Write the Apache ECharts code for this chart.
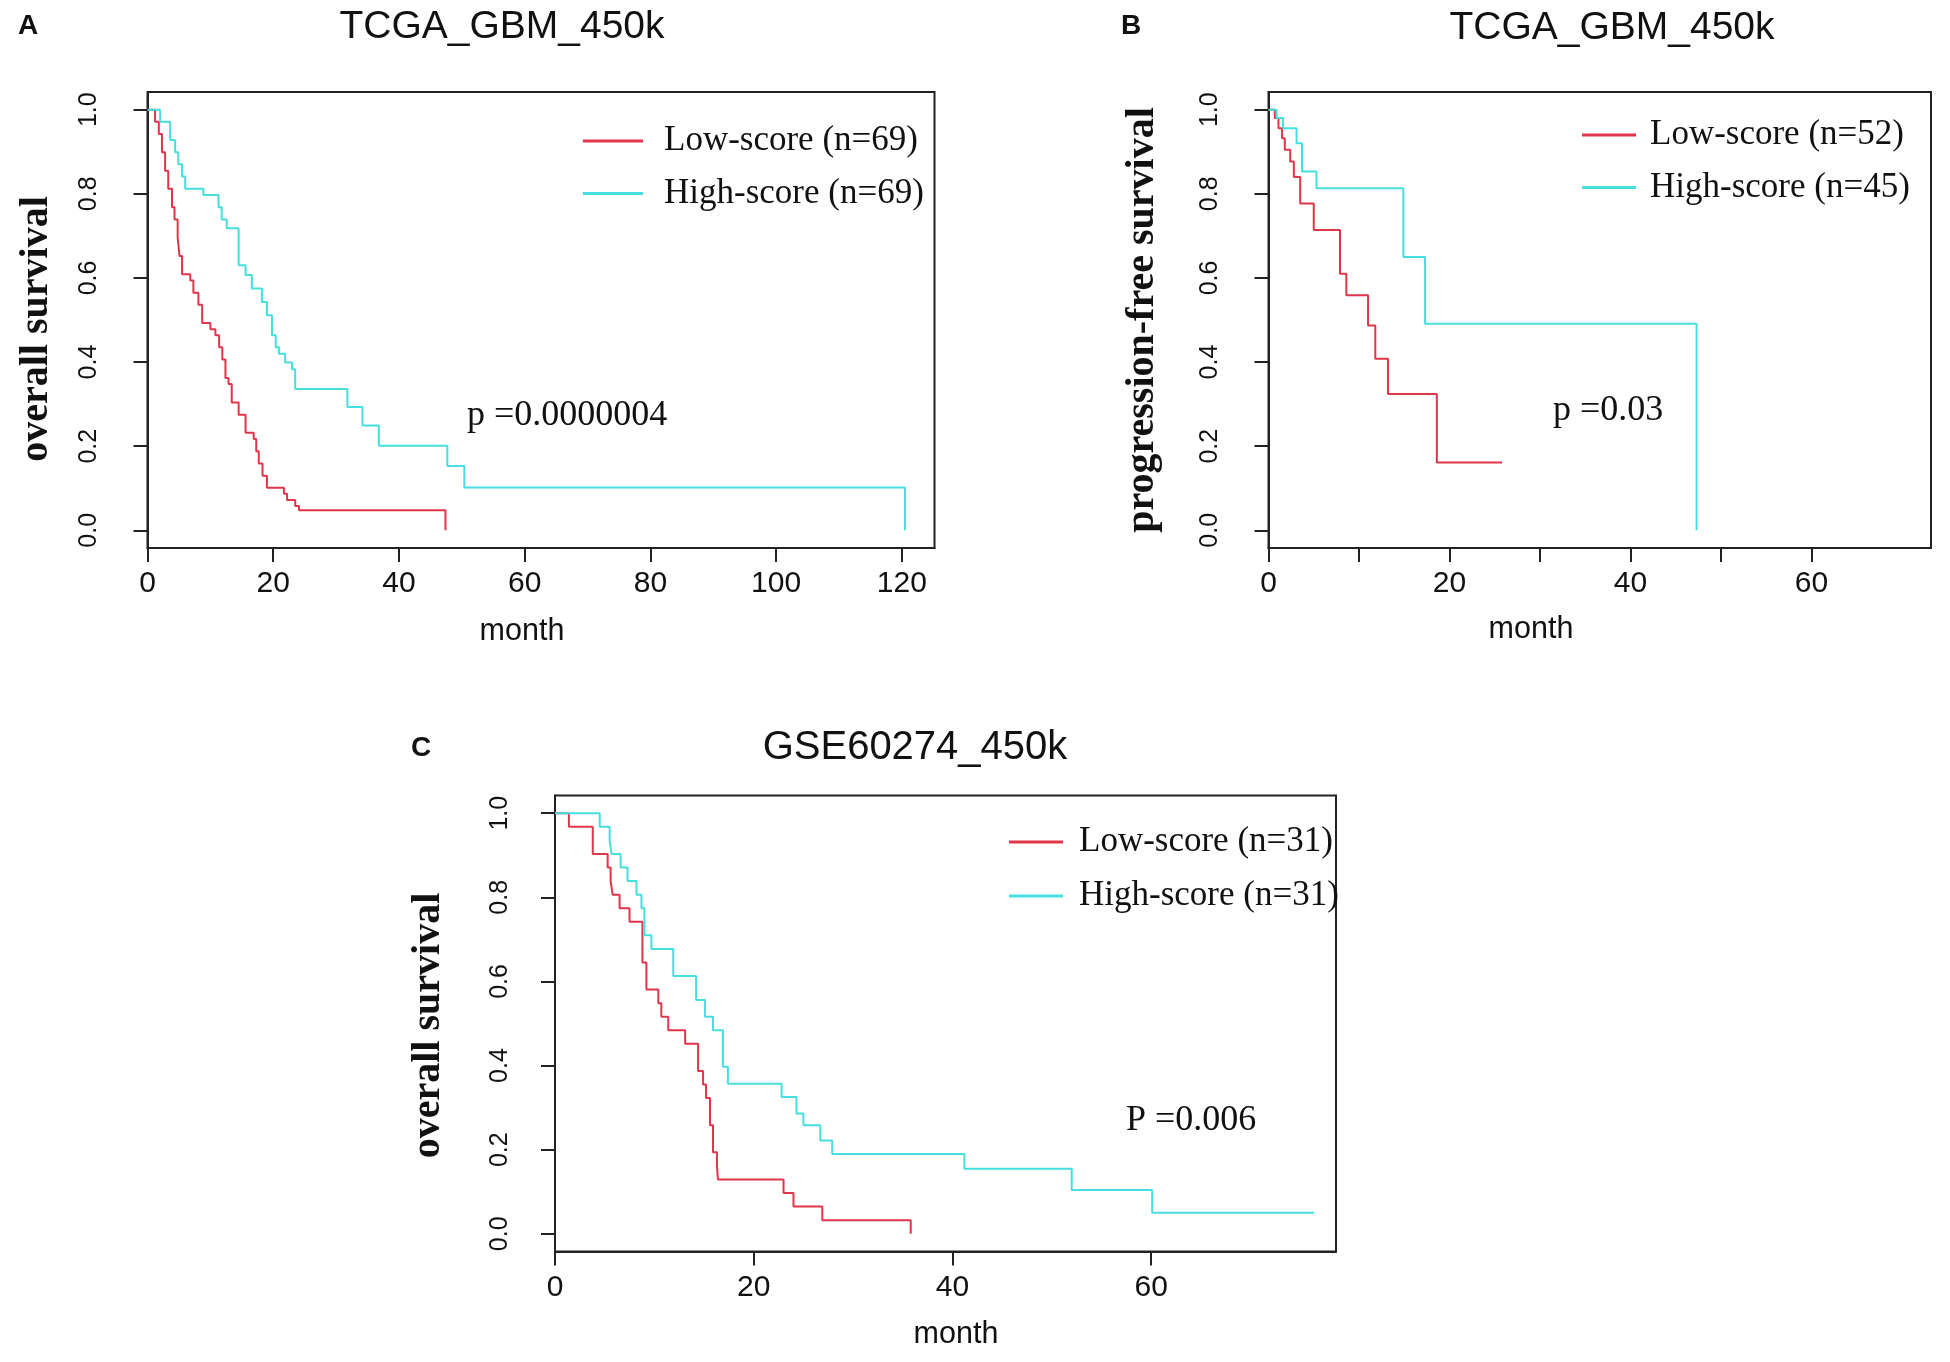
<!DOCTYPE html>
<html>
<head>
<meta charset="utf-8">
<script src="https://cdn.jsdelivr.net/npm/echarts@6.0.0/dist/echarts.min.js"></script>
<style>
html, body { margin: 0; padding: 0; background: #fff; }
#main { width: 1950px; height: 1362px; }
</style>
</head>
<body>
<div id="main"></div>
<script>
// Kaplan-Meier steps: [month, survival]
var lowA = [[0,1],[1.2,0.971],[1.8,0.942],[2.3,0.899],[2.8,0.855],[3.3,0.812],[3.9,0.768],[4.3,0.739],[4.8,0.696],[5.1,0.652],[5.5,0.609],[6.8,0.594],[7.3,0.565],[8.1,0.536],[8.7,0.493],[10.0,0.478],[10.8,0.464],[11.4,0.435],[11.9,0.406],[12.4,0.362],[12.9,0.348],[13.4,0.304],[14.5,0.275],[15.6,0.232],[16.9,0.217],[17.3,0.188],[17.7,0.159],[18.3,0.130],[19.0,0.101],[21.7,0.087],[22.2,0.072],[23.5,0.058],[24.1,0.048],[47.4,0]];
var highA = [[0,1],[2.0,0.971],[3.6,0.928],[4.4,0.899],[4.9,0.870],[5.5,0.841],[6.0,0.812],[8.9,0.797],[11.3,0.768],[11.8,0.739],[12.6,0.718],[14.5,0.630],[15.6,0.607],[16.6,0.575],[18.2,0.543],[19.0,0.511],[19.8,0.464],[20.4,0.435],[20.9,0.420],[21.9,0.399],[23.0,0.383],[23.5,0.336],[31.8,0.293],[34.2,0.249],[36.8,0.201],[47.7,0.153],[50.4,0.102],[120.5,0]];
var lowB = [[0,1],[0.7,0.98],[1.1,0.956],[1.5,0.932],[1.8,0.905],[2.4,0.877],[2.8,0.84],[3.5,0.777],[5.0,0.714],[7.9,0.61],[8.6,0.559],[11.0,0.487],[11.8,0.408],[13.2,0.324],[18.6,0.161],[25.8,0.161]];
var highB = [[0,1],[0.9,0.98],[1.6,0.956],[3.1,0.92],[3.7,0.853],[5.3,0.813],[14.9,0.65],[17.3,0.491],[47.3,0]];
var lowC = [[0,1],[1.4,0.968],[3.8,0.903],[5.3,0.871],[5.6,0.839],[5.8,0.806],[6.5,0.774],[7.5,0.742],[8.8,0.645],[9.2,0.581],[10.4,0.548],[10.7,0.516],[11.4,0.484],[13.1,0.452],[14.4,0.387],[14.9,0.355],[15.2,0.323],[15.6,0.258],[15.9,0.194],[16.3,0.161],[16.4,0.129],[23.0,0.097],[24.0,0.065],[26.9,0.032],[35.8,0]];
var highC = [[0,1],[4.5,0.968],[5.5,0.935],[5.7,0.903],[6.6,0.871],[7.3,0.839],[8.2,0.806],[8.7,0.774],[9.0,0.71],[9.7,0.677],[11.9,0.613],[14.2,0.556],[15.1,0.516],[15.9,0.484],[16.9,0.397],[17.4,0.357],[22.8,0.325],[24.3,0.286],[25.0,0.258],[26.7,0.222],[27.9,0.19],[41.2,0.155],[52.0,0.104],[60.1,0.05],[76.4,0.05]];

var names = ['Low-score (n=69)', 'High-score (n=69)', 'Low-score (n=52)', 'High-score (n=45)', 'Low-score (n=31)', 'High-score (n=31)'];
var titles = ['TCGA_GBM_450k', 'TCGA_GBM_450k', 'GSE60274_450k'];
var yNames = ['overall survival', 'progression-free survival', 'overall survival'];
var pTexts = ['p =0.0000004', 'p =0.03', 'P =0.006'];

var yTicks = [0, 0.2, 0.4, 0.6, 0.8, 1.0];
var xTicksA = [0, 20, 40, 60, 80, 100, 120];
var xTicksB = [0, 10, 20, 30, 40, 50, 60];
var xLabelsB = [0, 20, 40, 60];
var xTicksC = [0, 20, 40, 60];

var RED = '#e0354a', CYAN = '#45dfdf', INK = '#222';
var SANS = '"Liberation Sans", Arial, sans-serif';
var SERIF = '"Liberation Serif", "Times New Roman", serif';

function xAxis(grid, max, ticks, labels) {
    return {
        type: 'value', gridIndex: grid, min: 0, max: max,
        axisLine: { show: true, onZero: false, lineStyle: { color: INK, width: 2 } },
        axisTick: { show: true, length: 14, customValues: ticks, lineStyle: { color: INK, width: 2 } },
        axisLabel: { customValues: labels, margin: 21, fontFamily: SANS, fontSize: 30, color: '#111' },
        splitLine: { show: false }
    };
}
function yAxis(grid, name, gap, margin, shift) {
    return {
        type: 'value', gridIndex: grid, min: -0.042, max: 1.042,
        axisLine: { show: true, onZero: false, lineStyle: { color: INK, width: 2 } },
        axisTick: { show: true, length: 14, customValues: yTicks, lineStyle: { color: INK, width: 2 } },
        axisLabel: { customValues: yTicks, rotate: 90, margin: margin, fontFamily: SANS, fontSize: 25, color: '#111',
            formatter: function (v) { return v.toFixed(1); } },
        splitLine: { show: false },
        name: name, nameLocation: 'middle', nameRotate: 90, nameGap: gap,
        nameTextStyle: { fontFamily: SERIF, fontWeight: 'bold', fontSize: 40, color: '#111', padding: [0, shift, 0, 0] }
    };
}
function km(name, data, color, idx) {
    return {
        type: 'line', name: name, data: data, step: 'end', xAxisIndex: idx, yAxisIndex: idx,
        showSymbol: false, symbol: 'none', silent: true,
        lineStyle: { color: color, width: 2 }, itemStyle: { color: color }
    };
}
function legend(data, left, top, w, gap, pad) {
    return {
        data: data, left: left, top: top, orient: 'vertical', icon: 'rect',
        itemWidth: w, itemHeight: 3, itemGap: gap, selectedMode: false,
        textStyle: { fontFamily: SERIF, fontSize: 35, color: '#111', lineHeight: 40, padding: [0, 0, 0, pad] }
    };
}
function text(x, y, str, family, size, weight, align) {
    return {
        type: 'text', x: x, y: y, silent: true,
        style: { text: str, fontFamily: family, fontSize: size, fontWeight: weight, fill: '#111',
            align: align, verticalAlign: 'middle', textAlign: align, textVerticalAlign: 'middle' }
    };
}

var chart = echarts.init(document.getElementById('main'));
var grid = { show: true, borderColor: INK, borderWidth: 2, backgroundColor: 'transparent', containLabel: false, outerBoundsMode: 'none' };
var option = {
    animation: false,
    backgroundColor: '#fff',
    grid: [
        Object.assign({ left: 147.5, top: 92, width: 787, height: 456 }, grid),
        Object.assign({ left: 1268.5, top: 92, width: 662.5, height: 456 }, grid),
        Object.assign({ left: 555, top: 795.5, width: 781, height: 456 }, grid)
    ],
    xAxis: [
        xAxis(0, 125.2, xTicksA, xTicksA),
        xAxis(1, 73.2, xTicksB, xLabelsB),
        xAxis(2, 78.6, xTicksC, xTicksC)
    ],
    yAxis: [
        yAxis(0, yNames[0], 91, 46, 18),
        yAxis(1, yNames[1], 106, 46, 0),
        yAxis(2, yNames[2], 106, 42, 4)
    ],
    legend: [
        legend([names[0], names[1]], 578, 116, 60, 12.5, 16),
        legend([names[2], names[3]], 1577, 110, 54, 12.5, 9),
        legend([names[4], names[5]], 1004, 817, 54, 14, 11)
    ],
    series: [
        km(names[0], lowA, RED, 0), km(names[1], highA, CYAN, 0),
        km(names[2], lowB, RED, 1), km(names[3], highB, CYAN, 1),
        km(names[4], lowC, RED, 2), km(names[5], highC, CYAN, 2)
    ],
    graphic: [
        text(18, 26, 'A', SANS, 28, 'bold', 'left'),
        text(1121, 26, 'B', SANS, 28, 'bold', 'left'),
        text(411, 748, 'C', SANS, 28, 'bold', 'left'),
        text(502, 27, titles[0], SANS, 39, 'normal', 'center'),
        text(1612, 28, titles[1], SANS, 39, 'normal', 'center'),
        text(915, 748, titles[2], SANS, 40, 'normal', 'center'),
        text(522, 632, 'month', SANS, 30.5, 'normal', 'center'),
        text(1531, 630, 'month', SANS, 30.5, 'normal', 'center'),
        text(956, 1335, 'month', SANS, 30.5, 'normal', 'center'),
        text(467, 416, pTexts[0], SERIF, 36, 'normal', 'left'),
        text(1553, 411, pTexts[1], SERIF, 36, 'normal', 'left'),
        text(1126, 1121, pTexts[2], SERIF, 36, 'normal', 'left')
    ]
};
chart.setOption(option);
window.addEventListener('resize', function () { chart.resize(); });
</script>
</body>
</html>
